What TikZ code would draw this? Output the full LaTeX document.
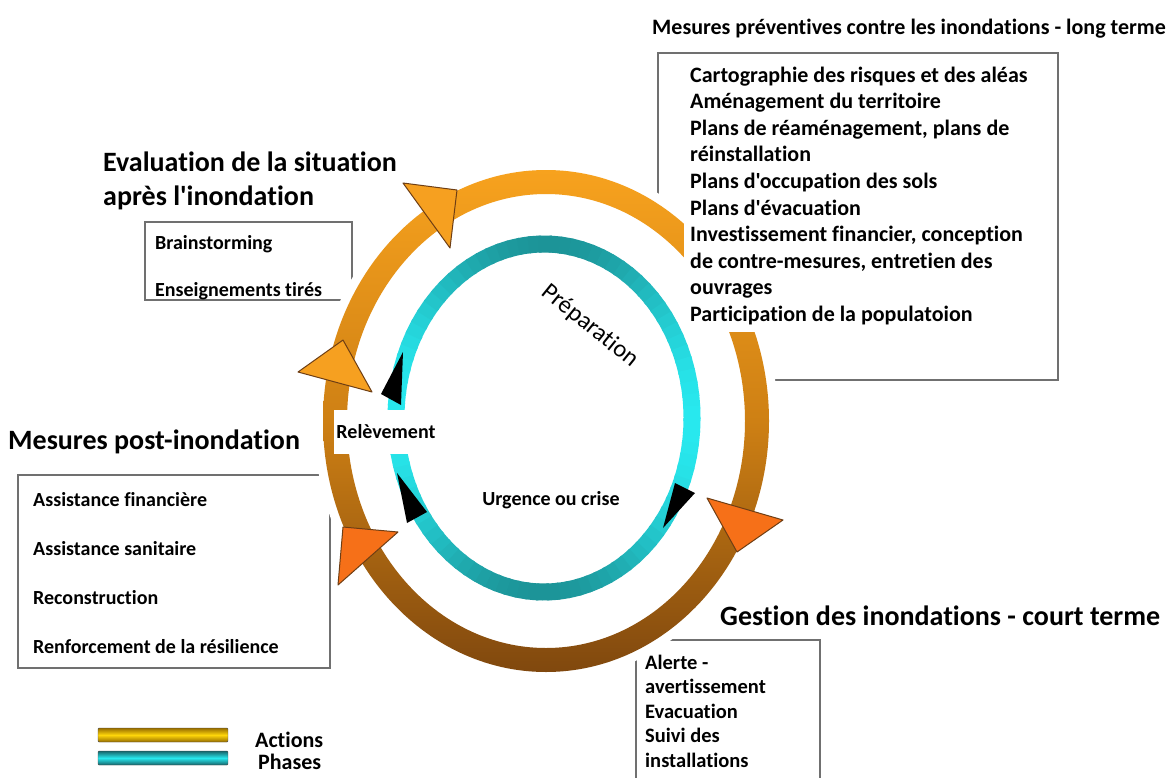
\documentclass[tikz,border=0pt]{standalone}
\usepackage{fontspec}
\setmainfont{Carlito}[Ligatures={TeXOff,NoCommon}]
\definecolor{boxgray}{RGB}{112,112,112}
\definecolor{ringtop}{RGB}{247,162,30}
\definecolor{ringmid}{RGB}{206,128,20}
\definecolor{ringbot}{RGB}{128,72,14}
\definecolor{cyanbright}{RGB}{40,232,238}
\definecolor{tealdark}{RGB}{28,148,152}
\definecolor{arrorange}{RGB}{246,160,32}
\definecolor{arrred}{RGB}{246,112,24}
\definecolor{arredge}{RGB}{110,62,20}
\definecolor{goldbright}{RGB}{255,214,10}
\definecolor{golddark}{RGB}{150,108,0}
\definecolor{phasedark}{RGB}{22,100,106}

\tikzstyle{box} = [draw=boxgray, line width=2pt, fill=white]
\tikzstyle{heading} = [anchor=base west, inner sep=0pt,
    font=\bfseries\fontsize{28}{34}\selectfont]
\tikzstyle{toptitle} = [anchor=base west, inner sep=0pt,
    font=\bfseries\fontsize{22}{26}\selectfont]
\tikzstyle{item} = [anchor=base west, inner sep=0pt,
    font=\bfseries\fontsize{20}{24}\selectfont]
\tikzstyle{itemb} = [anchor=base west, inner sep=0pt,
    font=\bfseries\fontsize{22}{26}\selectfont]
\tikzstyle{itemc} = [anchor=base west, inner sep=0pt,
    font=\bfseries\fontsize{20.5}{24}\selectfont]
\tikzstyle{phase} = [inner sep=0pt, font=\bfseries\fontsize{20}{24}\selectfont]
\tikzstyle{tri} = [draw=arredge, line width=1pt, line join=round]

\begin{document}
\begin{tikzpicture}[x=1pt,y=-1pt]
	\clip (0,0) rectangle (1176,777);
	\fill[white] (0,0) rectangle (1176,777);
	%
	\draw[box] (658,53) rectangle (1058,380);
	\draw[box] (145,222) rectangle (352,300);
	\draw[box] (18,475) rectangle (330,668);
	\draw[box] (636,640) rectangle (820,800);
	%
	\fill[white] (546,421) ellipse [x radius=232, y radius=260];
	\shade[even odd rule, top color=ringtop, bottom color=ringbot, middle color=ringmid]
		(546,421) ellipse [x radius=223, y radius=251]
		(546,421) ellipse [x radius=199, y radius=227];
	%
	\foreach \a in {0,4,...,356}{
		\pgfmathsetmacro\p{50+50*cos(2*\a)}
		\draw[line width=17, color=cyanbright!\p!tealdark]
			({544+148*cos(\a)},{418+174*sin(\a)})
			arc [start angle=\a, end angle=\a+5, x radius=148, y radius=174];
	}
	%
	\draw[tri, fill=arrorange] (403,183) -- (457,190) -- (450,248) -- cycle;
	\draw[tri, fill=arrorange] (298,372) -- (343,340) -- (372,392) -- cycle;
	\draw[tri, fill=arrred] (343,527) -- (398,532) -- (338,585) -- cycle;
	\draw[tri, fill=arrred] (707,498) -- (783,520) -- (737,552) -- cycle;
	\fill[black] (403,352) -- (381,394) -- (401,405) -- cycle;
	\fill[black] (397,473) -- (427,512) -- (407,523) -- cycle;
	\fill[black] (675,483) -- (695,493) -- (663,528) -- cycle;
	%
	\node [phase, fill=white, minimum height=44pt, inner xsep=2pt] (relev) at (386,432) {Relèvement};
	\node [phase] (urgence) at (551,500) {Urgence ou crise};
	\node [inner sep=0pt, rotate=-39, font=\fontsize{24.5}{28}\selectfont] (prep) at (590,326) {Préparation};
	%
	\node [toptitle] (tlong) at (652,34) {Mesures préventives contre les inondations - long terme};
	\fill[white] (684,58) rectangle (1045,332);
	\foreach \t [count=\i] in {Cartographie des risques et des aléas, Aménagement du territoire,
		{Plans de réaménagement, plans de}, réinstallation, Plans d'occupation des sols,
		Plans d'évacuation, {Investissement financier, conception}, {de contre-mesures, entretien des},
		ouvrages, Participation de la populatoion}
		\node [itemb] (long\i) at (690,{82+26.6*(\i-1)}) {\t};
	%
	\node [heading] (teval) at (103,171) {Evaluation de la situation};
	\node [heading] (teval2) at (103,205) {après l'inondation};
	\node [item] (brain) at (155,249) {Brainstorming};
	\node [item] (lecons) at (155,296) {Enseignements tirés};
	%
	\node [heading] (tpost) at (8,449) {Mesures post-inondation};
	\foreach \t [count=\i] in {Assistance financière, Assistance sanitaire, Reconstruction,
		Renforcement de la résilience}
		\node [item] (post\i) at (33,{506+49*(\i-1)}) {\t};
	%
	\node [heading] (tcourt) at (720,625) {Gestion des inondations - court terme};
	\foreach \t [count=\i] in {Alerte -, avertissement, Evacuation, Suivi des, installations}
		\node [itemc] (court\i) at (645,{669+24.5*(\i-1)}) {\t};
	%
	\shade[draw=black!70, top color=golddark, bottom color=golddark, middle color=goldbright,
		rounded corners=1pt] (98,728) rectangle (228,742);
	\shade[draw=black!70, top color=phasedark, bottom color=phasedark, middle color=cyanbright,
		rounded corners=1pt] (98,751) rectangle (228,765);
	\node [itemb] (lact) at (255,747) {Actions};
	\node [itemb] (lpha) at (258,769) {Phases};
\end{tikzpicture}
\end{document}
